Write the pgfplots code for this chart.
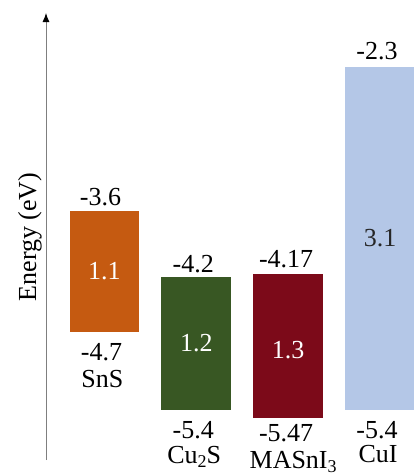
\documentclass[border=0pt]{standalone}
\usepackage{pgfplots}
\pgfplotsset{compat=1.18}
\usepackage{fontspec}
\setmainfont{Liberation Serif}
\newfontfamily\ylabfont{Liberation Serif}
\usetikzlibrary{arrows.meta}

\definecolor{snscol}{HTML}{C55A11}
\definecolor{cuscol}{HTML}{385723}
\definecolor{masncol}{HTML}{7C0A19}
\definecolor{cuicol}{HTML}{B4C7E7}
\definecolor{axisgray}{HTML}{7F7F7F}

% chemical-formula subscript
\newcommand{\chsub}[1]{\raisebox{-4pt}{\fontsize{18}{20}\selectfont #1}}

\begin{document}
\begin{tikzpicture}[x=1pt,y=1pt,font=\fontsize{26}{30}\selectfont]
\useasboundingbox (0,0) rectangle (414,475);
\begin{axis}[
  at={(46pt,15pt)}, anchor=south west,
  scale only axis, width=368pt, height=447pt,
  xmin=-0.636, xmax=3.37,
  ymin=-5.851, ymax=-1.817,
  axis x line=none,
  axis y line=left,
  ytick=\empty,
  clip=false,
  no markers,
  axis line style={draw=axisgray, line width=0.9pt,
    -{Latex[length=9pt,width=7pt,color=black]}},
]
% band edges: conduction band (top) and valence band (bottom), in eV
\addplot[fill=snscol, draw=none, forget plot]
  coordinates {(-0.38,-4.7) (0.38,-4.7) (0.38,-3.6) (-0.38,-3.6)} -- cycle;
\addplot[fill=cuscol, draw=none, forget plot]
  coordinates {(0.62,-5.4) (1.38,-5.4) (1.38,-4.2) (0.62,-4.2)} -- cycle;
\addplot[fill=masncol, draw=none, forget plot]
  coordinates {(1.62,-5.47) (2.38,-5.47) (2.38,-4.17) (1.62,-4.17)} -- cycle;
\addplot[fill=cuicol, draw=none, forget plot]
  coordinates {(2.62,-5.4) (3.38,-5.4) (3.38,-2.3) (2.62,-2.3)} -- cycle;

% conduction band levels
\node[anchor=base, inner sep=0, xshift=-4pt, yshift=5pt] at (axis cs:0,-3.6) {-3.6};
\node[anchor=base, inner sep=0, xshift=-3pt, yshift=5pt] at (axis cs:1,-4.2) {-4.2};
\node[anchor=base, inner sep=0, xshift=-2pt, yshift=6pt] at (axis cs:2,-4.17) {-4.17};
\node[anchor=base, inner sep=0, xshift=-3pt, yshift=7pt] at (axis cs:3,-2.3) {-2.3};

% band gaps
\node[text=white] at (axis cs:0,-4.15) {1.1};
\node[text=white] at (axis cs:1,-4.8) {1.2};
\node[text=white, yshift=-4pt] at (axis cs:2,-4.82) {1.3};
\node[text=black!85] at (axis cs:3,-3.85) {3.1};

% valence band levels and material names
\node[anchor=base, inner sep=0, xshift=-3pt, yshift=-28pt] at (axis cs:0,-4.7) {-4.7};
\node[anchor=base, inner sep=0, xshift=-2pt, yshift=-55pt] at (axis cs:0,-4.7) {SnS};
\node[anchor=base, inner sep=0, xshift=-3pt, yshift=-28pt] at (axis cs:1,-5.4) {-5.4};
\node[anchor=base, inner sep=0, xshift=-2pt, yshift=-53pt] at (axis cs:1,-5.4) {Cu\chsub{2}S};
\node[anchor=base, inner sep=0, xshift=-2pt, yshift=-24pt] at (axis cs:2,-5.47) {-5.47};
\node[anchor=base, inner sep=0, xshift=5pt, yshift=-50.5pt] at (axis cs:2,-5.47) {MASnI\chsub{3}};
\node[anchor=base, inner sep=0, xshift=-3pt, yshift=-28pt] at (axis cs:3,-5.4) {-5.4};
\node[anchor=base, inner sep=0, xshift=-2pt, yshift=-52pt] at (axis cs:3,-5.4) {CuI};

% axis title
\node[rotate=90, anchor=base, inner sep=0, font=\ylabfont\fontsize{26}{30}\selectfont]
  at ([xshift=-10pt]rel axis cs:0,0.499) {Energy (eV)};
\end{axis}
\end{tikzpicture}
\end{document}
